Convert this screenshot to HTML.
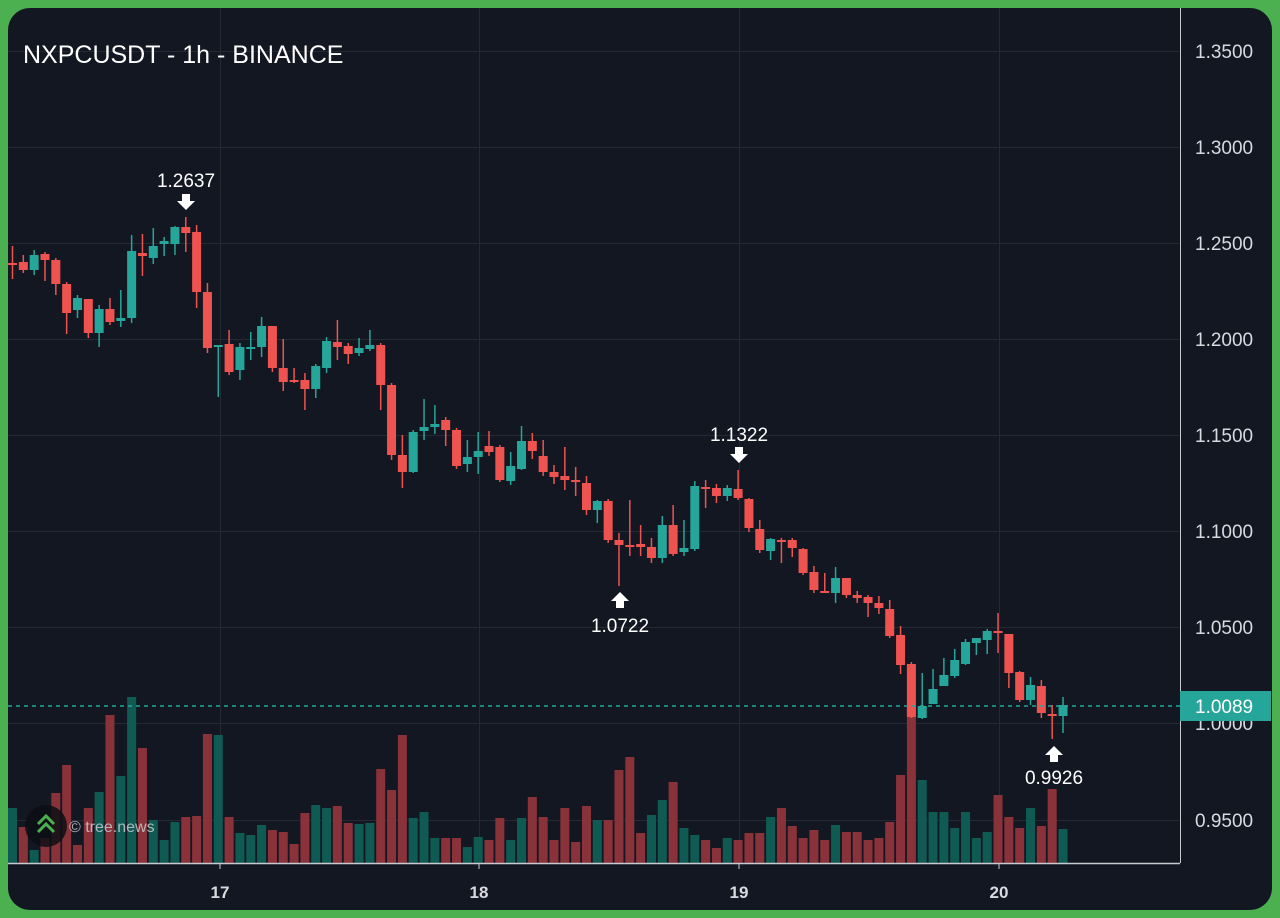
<!DOCTYPE html>
<html><head><meta charset="utf-8"><style>
html,body{margin:0;padding:0;background:#4caf50;}
body{width:1280px;height:918px;overflow:hidden;position:relative;font-family:"Liberation Sans",sans-serif;}
#panel{position:absolute;left:8px;top:8px;width:1264px;height:902px;background:#131722;border-radius:22px;overflow:hidden;}
svg{position:absolute;left:0;top:0;}
</style></head><body>
<div id="panel"></div>
<svg id="s" width="1280" height="918" xmlns="http://www.w3.org/2000/svg">
<g id="grid" stroke="#252932" stroke-width="1"></g>
<g id="vol"></g>
<g id="cand"></g>
<line x1="8" y1="706" x2="1180" y2="706" stroke="#26a69a" stroke-width="1.5" stroke-dasharray="4,4"/>
<line x1="8" y1="863.5" x2="1180" y2="863.5" stroke="#c8cad0" stroke-width="1.5"/>
<line x1="1180.5" y1="8" x2="1180.5" y2="863" stroke="#c8cad0" stroke-width="1"/>
<g fill="#d8dae0" font-size="19" font-family="Liberation Sans, sans-serif">
<text x="1195" y="58">1.3500</text><text x="1195" y="154">1.3000</text><text x="1195" y="250">1.2500</text>
<text x="1195" y="346">1.2000</text><text x="1195" y="442">1.1500</text><text x="1195" y="538">1.1000</text>
<text x="1195" y="634">1.0500</text><text x="1195" y="730">1.0000</text><text x="1195" y="827">0.9500</text>
</g>
<rect x="1180" y="691" width="91" height="30" fill="#26a69a"/>
<text x="1195" y="713" fill="#fff" font-size="19">1.0089</text>
<g fill="#d8dae0" font-size="17" font-weight="bold" text-anchor="middle">
<text x="220" y="898">17</text><text x="479" y="898">18</text><text x="739" y="898">19</text><text x="999" y="898">20</text>
</g>
<g stroke="#c8cad0"><line x1="220" y1="864" x2="220" y2="869"/><line x1="479" y1="864" x2="479" y2="869"/><line x1="739" y1="864" x2="739" y2="869"/><line x1="999" y1="864" x2="999" y2="869"/></g>
<text x="23" y="63" fill="#fff" font-size="25">NXPCUSDT - 1h - BINANCE</text>
<g fill="#fff" font-size="19" text-anchor="middle">
<text x="186" y="187">1.2637</text><text x="739" y="441">1.1322</text>
<text x="620" y="632">1.0722</text><text x="1054" y="784">0.9926</text>
</g>
<g fill="#fff">
<path d="M182,194h8v7h5l-9,9l-9,-9h5z"/>
<path d="M735,447h8v7h5l-9,9l-9,-9h5z"/>
<path d="M616,608h8v-7h5l-9,-9l-9,9h5z"/>
<path d="M1050,762h8v-7h5l-9,-9l-9,9h5z"/>
</g>
<circle cx="46" cy="826" r="21" fill="#0c0f14" opacity="0.85"/>
<path d="M38,824l8,-8l8,8M38,832l8,-8l8,8" stroke="#4caf50" stroke-width="3" fill="none"/>
<text x="69" y="832" fill="#c8cad0" font-size="16" opacity="0.85">© tree.news</text>
</svg>
<script>
var ns="http://www.w3.org/2000/svg";
function el(p,t,a){var e=document.createElementNS(ns,t);for(var k in a)e.setAttribute(k,a[k]);document.getElementById(p).appendChild(e);}
[51,147,243,339,435,531,627,723,820].forEach(function(y){el("grid","line",{x1:8,x2:1180,y1:y+.5,y2:y+.5});});
[220,479,739,999].forEach(function(x){el("grid","line",{x1:x+.5,x2:x+.5,y1:8,y2:863});});
var C=[[263,265,246,279],[262,270,255,273],[270,255,250,275],[254,260,252,281],[260,284,258,295],[284,313,282,334],[310,298,295,318],[299,333,299,338],[333,309,305,347],[309,322,298,325],[321,318,290,327],[318,251,235,323],[253,256,234,276],[258,246,228,264],[244,241,237,256],[244,227,226,255],[227,233,217,252],[232,292,225,308],[292,348,283,353],[346,345,345,397],[344,372,330,375],[370,347,343,380],[348,347,332,360],[347,326,317,357],[326,368,326,372],[368,382,339,391],[380,382,368,383],[380,389,373,410],[389,366,364,398],[368,341,337,373],[342,347,320,360],[346,354,343,364],[353,348,338,356],[349,345,330,351],[345,385,343,410],[385,455,383,460],[455,472,435,488],[472,432,430,473],[431,427,399,440],[427,424,405,434],[420,430,417,446],[430,466,428,469],[464,457,440,472],[457,451,432,474],[446,452,431,456],[447,480,445,482],[481,466,452,485],[469,441,426,470],[441,451,433,459],[456,472,440,476],[472,477,465,484],[476,480,447,490],[480,482,467,496],[483,510,476,515],[510,501,500,523],[501,540,499,543],[540,545,533,586],[545,547,500,556],[544,547,525,556],[547,558,538,563],[558,525,516,563],[525,554,505,556],[552,548,520,556],[549,486,481,551],[487,488,480,508],[488,496,484,503],[496,488,485,501],[489,498,470,500],[499,528,498,532],[529,550,520,553],[551,539,538,560],[540,542,538,563],[540,548,538,557],[549,573,548,575],[572,590,566,593],[591,592,573,593],[593,578,567,603],[578,595,578,598],[595,598,591,603],[597,603,595,617],[603,608,596,614],[609,636,600,638],[635,665,626,674],[664,717,662,718],[718,706,673,719],[704,689,669,703],[686,675,658,681],[676,660,649,678],[664,642,639,665],[643,638,638,655],[640,631,629,654],[631,633,613,653],[634,673,634,688],[672,700,671,702],[700,685,677,705],[686,713,680,718],[714,715,705,739],[716,705,697,733]];
var V=[[808,1],[827,0],[850,1],[838,0],[793,0],[765,0],[845,0],[808,0],[792,1],[715,0],[776,1],[697,1],[748,0],[820,1],[840,1],[822,1],[817,0],[816,0],[734,0],[735,1],[817,0],[833,1],[835,1],[825,1],[830,0],[832,0],[844,0],[813,0],[805,1],[808,1],[806,0],[823,0],[824,1],[823,1],[769,0],[790,0],[735,0],[818,1],[812,1],[838,1],[838,0],[838,0],[847,1],[837,1],[840,0],[818,0],[840,1],[818,1],[797,0],[817,0],[840,0],[808,0],[842,0],[806,0],[820,1],[820,0],[770,0],[757,0],[833,0],[815,1],[800,1],[782,0],[828,1],[835,1],[840,0],[848,0],[838,1],[840,0],[833,0],[833,0],[817,1],[808,0],[826,0],[838,0],[830,0],[840,0],[825,1],[832,0],[832,0],[840,0],[838,0],[822,0],[775,0],[705,0],[780,1],[812,1],[812,1],[828,1],[812,1],[838,1],[832,1],[795,0],[817,0],[828,0],[808,1],[826,0],[789,0],[829,1]];
var dx=10.83,x0=12.5;
V.forEach(function(v,i){var x=x0+i*dx;el("vol","rect",{x:x-4.5,y:v[0],width:9,height:863-v[0],fill:v[1]?"#0f5b54":"#8a3239"});});
C.forEach(function(c,i){var x=x0+i*dx;var g=c[1]<=c[0];var col=g?"#26a69a":"#ef5350";
el("cand","line",{x1:x,x2:x,y1:c[2],y2:c[3],stroke:col,"stroke-width":1.5});
var t=Math.min(c[0],c[1]),h=Math.max(2,Math.abs(c[0]-c[1]));
el("cand","rect",{x:x-4.5,y:t,width:9,height:h,fill:col});});
</script>
</body></html>
